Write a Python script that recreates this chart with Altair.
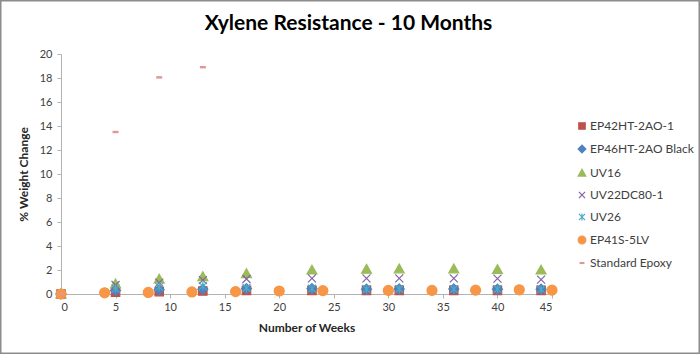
import altair as alt
import pandas as pd

series_names = ["EP42HT-2AO-1", "EP46HT-2AO Black", "UV16", "UV22DC80-1", "UV26", "EP41S-5LV", "Standard Epoxy"]
colors = ["#C0504D", "#4F81BD", "#9BBB59", "#8064A2", "#4BACC6", "#F79646", "#E39695"]
shapes = ["M-1.05,-1.05H1.05V1.05H-1.05Z",
          "M0,-1.25L1.25,0L0,1.25L-1.25,0Z",
          "M0,-1.2L1.25,1L-1.25,1Z",
          "M-1,-1L1,1M-1,1L1,-1",
          "M-1,-1L1,1M-1,1L1,-1M0,-1.1L0,1.1",
          "M-1.25,0A1.25,1.25,0,1,1,1.25,0A1.25,1.25,0,1,1,-1.25,0Z",
          "M-0.6,-0.15H0.6V0.15H-0.6Z"]

weeks_main = [0, 5, 9, 13, 17, 23, 28, 31, 36, 40, 44]
ep42 = [0, 0.15, 0.2, 0.25, 0.3, 0.3, 0.3, 0.3, 0.3, 0.3, 0.3]
ep46 = [0, 0.3, 0.35, 0.4, 0.45, 0.45, 0.4, 0.42, 0.42, 0.4, 0.4]
uv16 = [0, 0.85, 1.25, 1.45, 1.7, 2.0, 2.07, 2.1, 2.1, 2.05, 2.0]
uv22 = [0, 0.75, 0.95, 1.15, 1.25, 1.3, 1.3, 1.3, 1.3, 1.28, 1.2]
uv26 = [0, 0.45, 0.6, 0.65, 0.5, 0.45, 0.4, 0.42, 0.4, 0.4, 0.38]
weeks_ep41 = [0, 4, 8, 12, 16, 20, 24, 30, 34, 38, 42, 45]
ep41 = [0, 0.1, 0.13, 0.17, 0.2, 0.25, 0.28, 0.3, 0.3, 0.32, 0.35, 0.32]
weeks_std = [0, 5, 9, 13]
std_epoxy = [0, 13.5, 18.05, 18.9]

rows = []
for name, wk, vals in [
    (series_names[0], weeks_main, ep42),
    (series_names[1], weeks_main, ep46),
    (series_names[2], weeks_main, uv16),
    (series_names[3], weeks_main, uv22),
    (series_names[4], weeks_main, uv26),
    (series_names[5], weeks_ep41, ep41),
    (series_names[6], weeks_std, std_epoxy),
]:
    for w, v in zip(wk, vals):
        rows.append({"series": name, "week": w, "value": v})
df = pd.DataFrame(rows)

FONT = "Lato"

legend = alt.Legend(title=None, orient="none", legendX=515, legendY=66,
                    labelFont=FONT, labelFontSize=12, labelColor="#404040",
                    rowPadding=10, labelOffset=2, symbolStrokeWidth=1.2,
                    symbolSize=38)

points = alt.Chart(df).mark_point(filled=True, opacity=1, strokeWidth=1.2, size=64).encode(
    x=alt.X("week:Q", scale=alt.Scale(domain=[0, 45], nice=False),
            axis=alt.Axis(title="Number of Weeks", values=list(range(0, 46, 5)))),
    y=alt.Y("value:Q", scale=alt.Scale(domain=[0, 20], nice=False),
            axis=alt.Axis(title="% Weight Change", values=list(range(0, 21, 2)))),
    fill=alt.Fill("series:N", scale=alt.Scale(domain=series_names, range=colors), legend=legend),
    stroke=alt.Stroke("series:N", scale=alt.Scale(domain=series_names, range=colors), legend=legend),
    shape=alt.Shape("series:N", scale=alt.Scale(domain=series_names, range=shapes), legend=legend),
)

border = alt.Chart(pd.DataFrame({"a": [0]})).mark_rect(fill=None, stroke="#8C8C8C", strokeWidth=1.5).encode(
    x=alt.value(-61 + 0.75), x2=alt.value(700 - 61 - 0.75),
    y=alt.value(-54 + 0.75), y2=alt.value(354 - 54 - 0.75),
)

chart = alt.layer(border, points).properties(
    width=491, height=240,
    autosize=alt.AutoSizeParams(type="none"),
    padding={"left": 61, "top": 54, "right": 148, "bottom": 60},
    title=alt.TitleParams("Xylene Resistance - 10 Months", font=FONT, fontSize=21,
                          fontWeight="bold", color="#000000", anchor="middle",
                          dx=42, offset=0, dy=34),
).configure_view(stroke=None).configure_axis(
    domainColor="#B3B3B3", tickColor="#B3B3B3", grid=False,
    labelFont=FONT, labelFontSize=11, labelColor="#404040",
    titleFont=FONT, titleFontSize=12, titleFontWeight="bold", titleColor="#262626",
    tickSize=4,
).configure_axisY(titlePadding=9, labelPadding=5).configure_axisX(titlePadding=10, labelPadding=3)

chart.save("out.html", embed_options={"renderer": "svg", "actions": False})
